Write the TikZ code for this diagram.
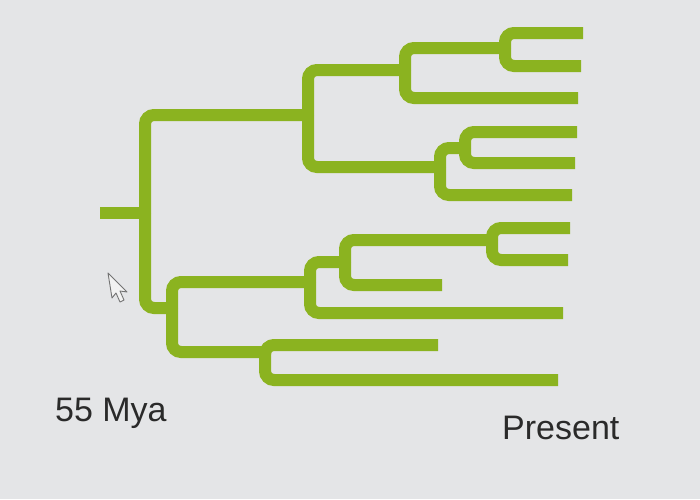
\documentclass[tikz,border=0pt]{standalone}
\usepackage{fontspec}
\setmainfont{Liberation Sans}
\usepackage{xcolor}
\usetikzlibrary{positioning}

\definecolor{treegreen}{RGB}{139,179,32}
\definecolor{screengray}{RGB}{228,229,231}
\definecolor{labelgray}{RGB}{42,42,42}

\begin{document}
\begin{tikzpicture}[
    x=1pt, y=-1pt,
    branch/.style={
        draw=treegreen,
        line width=12pt,
        rounded corners=9pt
    },
    timelabel/.style={
        font=\fontsize{34}{38}\selectfont,
        text=labelgray,
        inner sep=0pt,
        anchor=base west
    },
    pointer/.style={
        draw=black!55,
        fill=white!90!gray,
        line width=0.9pt,
        line join=round
    }
]

% --- Screen --------------------------------------------------------------------

\useasboundingbox (0,0) rectangle (700,499);
\fill[screengray] (0,0) rectangle (700,499);

% --- Internal nodes ------------------------------------------------------------

\coordinate (stub) at (100,213);
\coordinate (root) at (145,213);

\coordinate (top)   at (308,115);
\coordinate (topA)  at (405,70);
\coordinate (topAA) at (505,48);
\coordinate (topB)  at (440,167);
\coordinate (topBA) at (465,148);

\coordinate (bot)    at (172,308);
\coordinate (botA)   at (310,282);
\coordinate (botAA)  at (345,262);
\coordinate (botAAA) at (492,240);
\coordinate (botB)   at (265,352);

% --- Leaves --------------------------------------------------------------------

\coordinate (leaf1)  at (583,33);
\coordinate (leaf2)  at (581,66);
\coordinate (leaf3)  at (578,98);
\coordinate (leaf4)  at (577,132);
\coordinate (leaf5)  at (575,163);
\coordinate (leaf6)  at (572,195);
\coordinate (leaf7)  at (570,228);
\coordinate (leaf8)  at (568,260);
\coordinate (leaf9)  at (442,285);
\coordinate (leaf10) at (563,313);
\coordinate (leaf11) at (438,345);
\coordinate (leaf12) at (558,380);

% --- Branches ------------------------------------------------------------------

\draw[branch] (stub) -- (root);
\draw[branch] (root) |- (top);
\draw[branch] (root) |- (bot);

\draw[branch] (top) |- (topA);
\draw[branch] (top) |- (topB);
\draw[branch] (topA) |- (topAA);
\draw[branch] (topA) |- (leaf3);
\draw[branch] (topAA) |- (leaf1);
\draw[branch] (topAA) |- (leaf2);
\draw[branch] (topB) |- (topBA);
\draw[branch] (topB) |- (leaf6);
\draw[branch] (topBA) |- (leaf4);
\draw[branch] (topBA) |- (leaf5);

\draw[branch] (bot) |- (botA);
\draw[branch] (bot) |- (botB);
\draw[branch] (botA) |- (botAA);
\draw[branch] (botA) |- (leaf10);
\draw[branch] (botAA) |- (botAAA);
\draw[branch] (botAA) |- (leaf9);
\draw[branch] (botAAA) |- (leaf7);
\draw[branch] (botAAA) |- (leaf8);
\draw[branch] (botB) |- (leaf11);
\draw[branch] (botB) |- (leaf12);

% --- Time axis labels ----------------------------------------------------------

\node[timelabel] (past) at (55,421) {55 Mya};
\node[timelabel] (present) at (502,439) {Present};

% --- Mouse pointer -------------------------------------------------------------

\draw[pointer] (108,273) -- (112,298) -- (116,293) -- (120,302) -- (124,300)
    -- (120,291) -- (127,292) -- cycle;

\end{tikzpicture}
\end{document}
